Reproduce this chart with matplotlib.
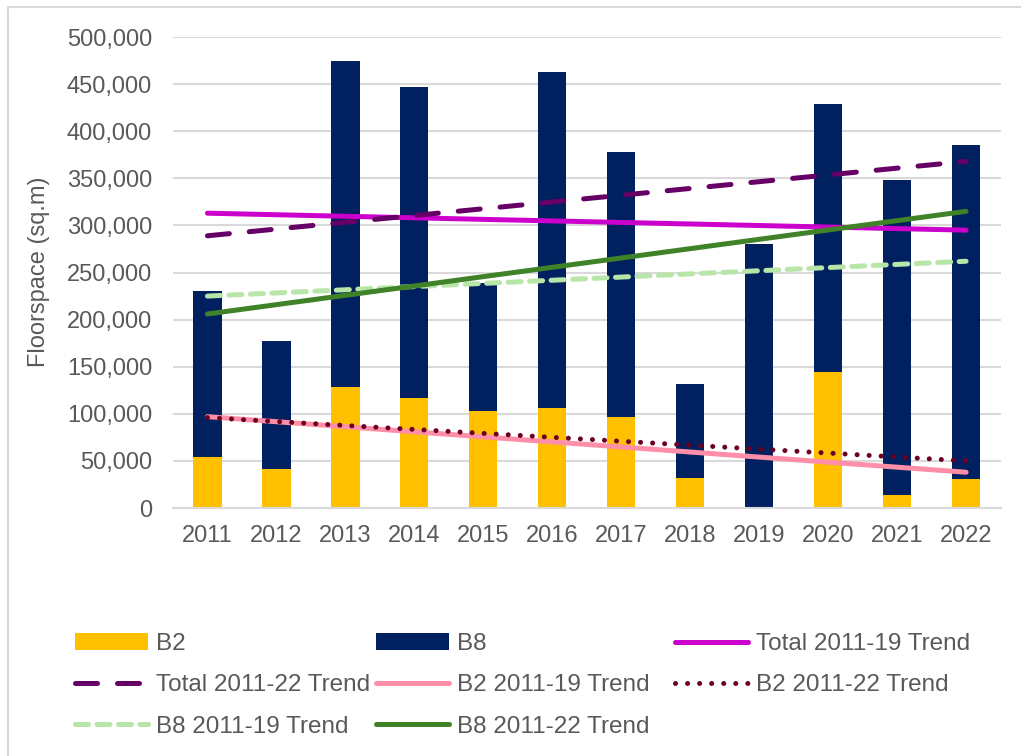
import matplotlib
matplotlib.use("Agg")
import matplotlib.pyplot as plt
from matplotlib.patches import Rectangle
from matplotlib.ticker import FuncFormatter
import numpy as np

plt.rcParams['font.family'] = ['Liberation Sans', 'DejaVu Sans']

# data
years = ['2011', '2012', '2013', '2014', '2015', '2016',
         '2017', '2018', '2019', '2020', '2021', '2022']
b2 = [54000, 41000, 129000, 117000, 103000, 106000,
      97000, 32000, 0, 144000, 14000, 31000]
total = [230000, 177000, 475000, 447000, 239000, 463000,
         378000, 132000, 280000, 429000, 348000, 385000]
b8 = [t - b for t, b in zip(total, b2)]

# trend lines: value at 2011 and at 2022
trend_names = ['Total 2011-19 Trend', 'Total 2011-22 Trend',
               'B2 2011-19 Trend', 'B2 2011-22 Trend',
               'B8 2011-19 Trend', 'B8 2011-22 Trend']
trend_start = [313000, 289000, 97000, 96000, 225000, 206000]
trend_end = [295000, 368000, 38000, 50000, 262000, 315000]

trend_styles = [
    dict(color='#CC00CC', linestyle='-'),
    dict(color='#660066', linestyle=(0, (4.4, 4.0))),
    dict(color='#FF8FA8', linestyle='-'),
    dict(color='#6B0022', linestyle=(0, (0.01, 2.4))),
    dict(color='#B8E6A8', linestyle=(0, (2.6, 1.7))),
    dict(color='#3F8228', linestyle='-'),
]

txt = '#595959'
grid = '#D9D9D9'
W, H = 1021, 756

fig = plt.figure(figsize=(W / 100, H / 100), dpi=100)
ax = fig.add_axes([0.1694, 0.328, 0.8106, 0.623])

x = np.arange(len(years))
h_b2 = ax.bar(x, b2, width=0.41, color='#FFC000', zorder=2, label='B2')
h_b8 = ax.bar(x, b8, bottom=b2, width=0.41, color='#002060', zorder=2, label='B8')

lines = []
for name, s, e, st in zip(trend_names, trend_start, trend_end, trend_styles):
    ln, = ax.plot([x[0], x[-1]], [s, e], lw=3.6, solid_capstyle='round',
                  dash_capstyle='round', zorder=3, label=name, **st)
    lines.append(ln)

ax.set_xlim(-0.5, len(years) - 0.5)
ax.set_ylim(0, 500000)
ax.set_yticks(np.arange(0, 500001, 50000))
ax.yaxis.set_major_formatter(FuncFormatter(lambda v, p: f'{int(v):,}'))
ax.set_xticks(x)
ax.set_xticklabels(years)
ax.grid(axis='y', color=grid, lw=1.5, zorder=0)
ax.set_axisbelow(True)
for sp in ['top', 'right', 'left']:
    ax.spines[sp].set_visible(False)
ax.spines['bottom'].set_color(grid)
ax.spines['bottom'].set_linewidth(1.5)
ax.tick_params(axis='y', length=0, pad=15, labelsize=17, labelcolor=txt)
ax.tick_params(axis='x', length=0, pad=12, labelsize=17, labelcolor=txt)

fig.text(39 / W, 0.64, 'Floorspace (sq.m)', rotation=90, ha='center',
         va='center', fontsize=17, color=txt)

# legend: three fixed-width columns, filled row by row
columns = [[h_b2, lines[1], lines[4]],
           [h_b8, lines[2], lines[5]],
           [lines[0], lines[3]]]
col_x = [75, 376, 675]
for hs, cx in zip(columns, col_x):
    leg = fig.legend(hs, [h.get_label() for h in hs], loc='upper left',
                     bbox_to_anchor=(cx / W, (H - 633) / H), frameon=False,
                     fontsize=17.5, handlelength=3.0, handletextpad=0.35,
                     labelspacing=0.8, borderpad=0, borderaxespad=0)
    for t in leg.get_texts():
        t.set_color(txt)

fig.add_artist(Rectangle((8 / W, -0.1), 1.2, 1.1 - 7 / H,
                         transform=fig.transFigure, fill=False,
                         edgecolor=grid, lw=1.5))

fig.savefig('out.png', dpi=100)
